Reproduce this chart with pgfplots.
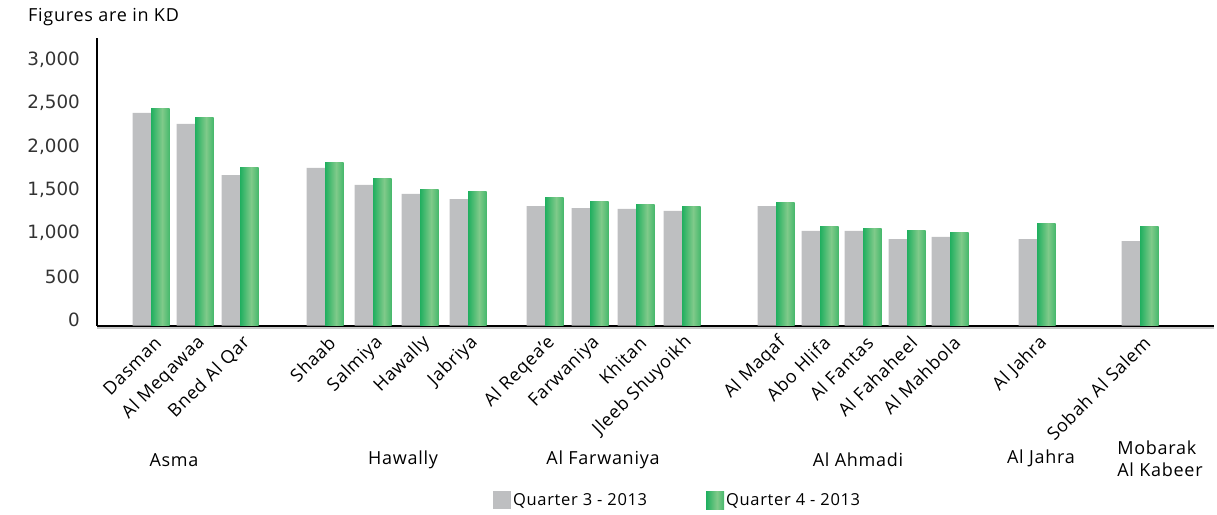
\documentclass[border=0pt]{standalone}
\usepackage{fontspec}
\setmainfont{Open Sans}[LetterSpace=4]
\newfontfamily\numfont{DejaVu Sans}
\usepackage{pgfplots}
\usepackage{pgfplotstable}
\pgfplotsset{compat=1.18}
\definecolor{qgray}{RGB}{190,191,193}
\definecolor{gdark}{RGB}{0,166,81}
\definecolor{gmid}{RGB}{40,175,92}
\definecolor{glight}{RGB}{128,202,138}
\definecolor{ticktxt}{RGB}{51,51,51}
\pgfdeclarehorizontalshading{greenbar}{100bp}{color(0bp)=(gdark); color(15bp)=(gdark); color(55bp)=(glight); color(85bp)=(gmid); color(100bp)=(gdark)}

\pgfplotstableread{
x q3 q4
151 2455 2512
195 2328 2397
240 1739 1831
325 1820 1889
373 1624 1704
420 1520 1577
468 1462 1543
545 1381 1474
590 1358 1439
636 1347 1404
682 1324 1370
776 1381 1427
820 1093 1139
863 1093 1127
907 1000 1104
950 1024 1070
1037 1000 1174
1140 977 1139
}\data

\begin{document}
\begin{tikzpicture}
\path[use as bounding box] (0pt,0pt) rectangle (1217pt,514pt);
\begin{axis}[
  at={(97pt,188.3pt)}, anchor=south west,
  scale only axis, width=1117pt, height=287.7pt,
  xmin=97, xmax=1214, ymin=0, ymax=3320,
  axis x line=bottom, axis y line=left,
  axis line style={-, line width=2pt, black},
  ytick={0,500,...,3000},
  xtick=data,
  xticklabels={Dasman, Al Meqawaa, Bned Al Qar, Shaab, Salmiya, Hawally, Jabriya, Al Reqea’e, Farwaniya, Khitan, Jleeb Shuyoikh, Al Maqaf, Abo Hlifa, Al Fantas, Al Fahaheel, Al Mahbola, Al Jahra, Sobah Al Salem},
  major tick length=0pt,
  yticklabel style={font=\numfont\fontsize{18.3}{20}\selectfont, text=ticktxt, inner sep=0pt, anchor=east, xshift=-17pt, yshift=6pt},
  xticklabel style={font=\fontsize{18}{21}\selectfont, inner sep=0pt, xshift=7pt, yshift=-14pt, rotate=45, anchor=east},
  legend image code/.code={\path[#1, draw=none] (0pt,-9pt) rectangle (18pt,9pt);},
  legend style={at={(0.3545,-0.606)}, anchor=west, draw=none, fill=none, inner sep=0pt,
    legend columns=2, font=\fontsize{16.5}{19}\selectfont,
    /tikz/every even column/.append style={column sep=57pt}},
  legend cell align=left,
  /pgf/number format/1000 sep={,},
  /pgf/number format/assume math mode=true,
]
\addplot[ybar, bar width=18.5, bar shift=-9.25, fill=qgray, draw=none] table[x=x, y=q3] {\data};
\pgfplotsinvokeforeach{0,...,17}{
  \pgfplotstablegetelem{#1}{x}\of\data \let\xx\pgfplotsretval
  \pgfplotstablegetelem{#1}{q4}\of\data \let\yy\pgfplotsretval
  \edef\tmp{\noexpand\addplot[ybar, bar width=18.5, bar shift=9.25, shading=greenbar, draw=none\ifnum#1>0 , forget plot\fi] coordinates {(\xx,\yy)};}
  \tmp
}
\legend{Quarter 3 - 2013, Quarter 4 - 2013}
\end{axis}
\draw[black!22, line width=1.2pt] ([yshift=-2.3pt]current axis.south west) -- ([yshift=-2.3pt]current axis.south east);
\node[anchor=west, font=\fontsize{18}{21}\selectfont, inner sep=0pt] at (28pt,497pt) {Figures are in KD};
\begin{scope}[every node/.style={font=\fontsize{18}{22}\selectfont, inner sep=0pt}]
\node at (174pt,54pt) {Asma};
\node at (403pt,54pt) {Hawally};
\node at (603pt,54pt) {Al Farwaniya};
\node at (858pt,54pt) {Al Ahmadi};
\node at (1041pt,56pt) {Al Jahra};
\node[align=left] at (1160pt,55pt) {Mobarak\\Al Kabeer};
\end{scope}
\end{tikzpicture}
\end{document}
